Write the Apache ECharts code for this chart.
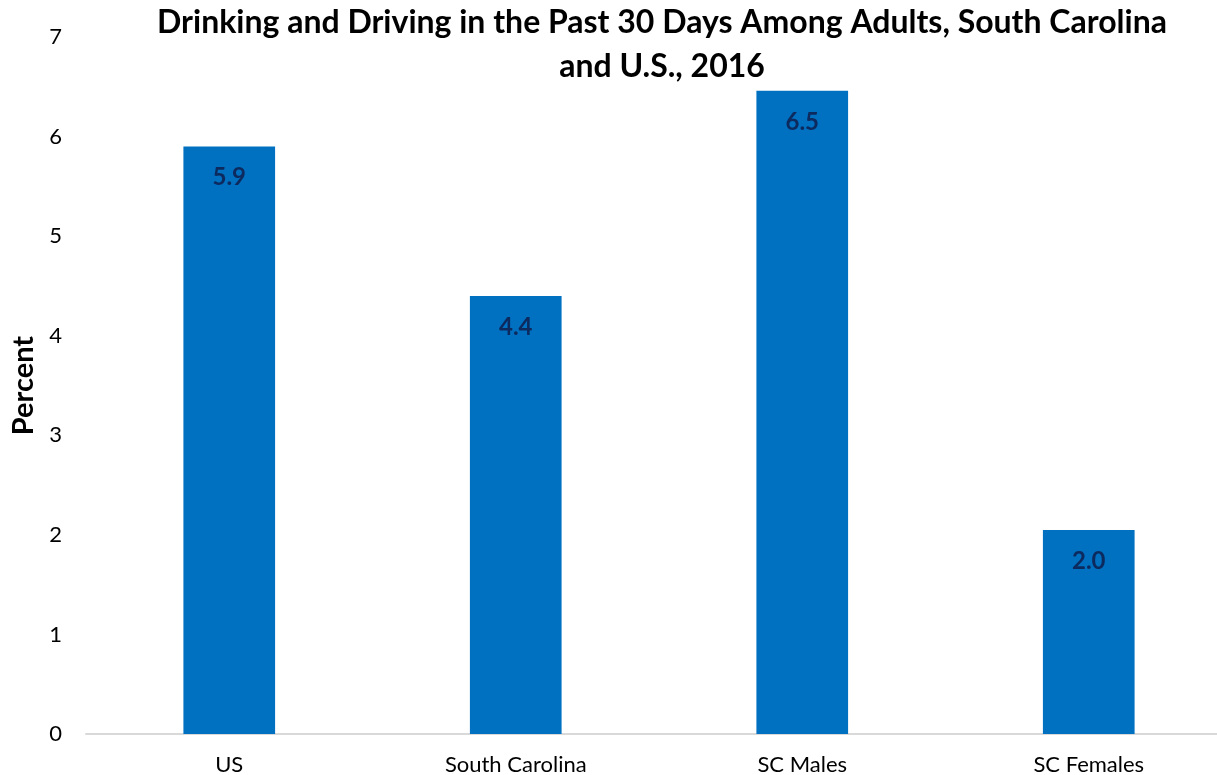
<!DOCTYPE html>
<html><head><meta charset="utf-8">
<script src="https://cdn.jsdelivr.net/npm/echarts@6/dist/echarts.min.js"></script>
<style>html,body{margin:0;padding:0;background:#fff}#c{width:1217px;height:775px}</style>
</head><body><div id="c"></div>
<script>
const categories = ["US", "South Carolina", "SC Males", "SC Females"];
const values = [5.9, 4.4, 6.46, 2.05];
const valueLabels = ["5.9", "4.4", "6.5", "2.0"];
const yTicks = [0, 1, 2, 3, 4, 5, 6, 7];
const titleText = "Drinking and Driving in the Past 30 Days Among Adults, South Carolina\nand U.S., 2016";

const FONT = "Lato";
const chart = echarts.init(document.getElementById('c'));
chart.setOption({
  animation: false,
  title: {
    text: titleText, left: 657, top: -4, textAlign: 'center',
    textStyle: {fontFamily: FONT, fontWeight: 'bold', fontSize: 32, color: '#000', lineHeight: 44}
  },
  grid: {left: 86, width: 1146, top: 37, bottom: 41, containLabel: false, outerBoundsMode: 'none'},
  xAxis: {
    type: 'category', data: categories,
    axisLine: {lineStyle: {color: '#D9D9D9', width: 2}},
    axisTick: {show: false},
    axisLabel: {fontFamily: FONT, fontSize: 22, color: '#000', margin: 20}
  },
  yAxis: {
    type: 'value', min: yTicks[0], max: yTicks[yTicks.length - 1], interval: 1,
    name: 'Percent', nameLocation: 'middle', nameGap: 44, nameRotate: 90,
    nameTextStyle: {fontFamily: FONT, fontWeight: 'bold', fontSize: 29, color: '#000'},
    axisLine: {show: false}, axisTick: {show: false}, splitLine: {show: false},
    axisLabel: {fontFamily: FONT, fontSize: 22, color: '#000', margin: 24}
  },
  series: [{
    type: 'bar', data: values, barWidth: '32%',
    itemStyle: {color: '#0070C0'},
    label: {
      show: true, position: 'insideTop', distance: 19,
      formatter: p => valueLabels[p.dataIndex],
      fontFamily: FONT, fontWeight: 'bold', fontSize: 24, color: '#0C2A5E'
    }
  }]
});
</script></body></html>
